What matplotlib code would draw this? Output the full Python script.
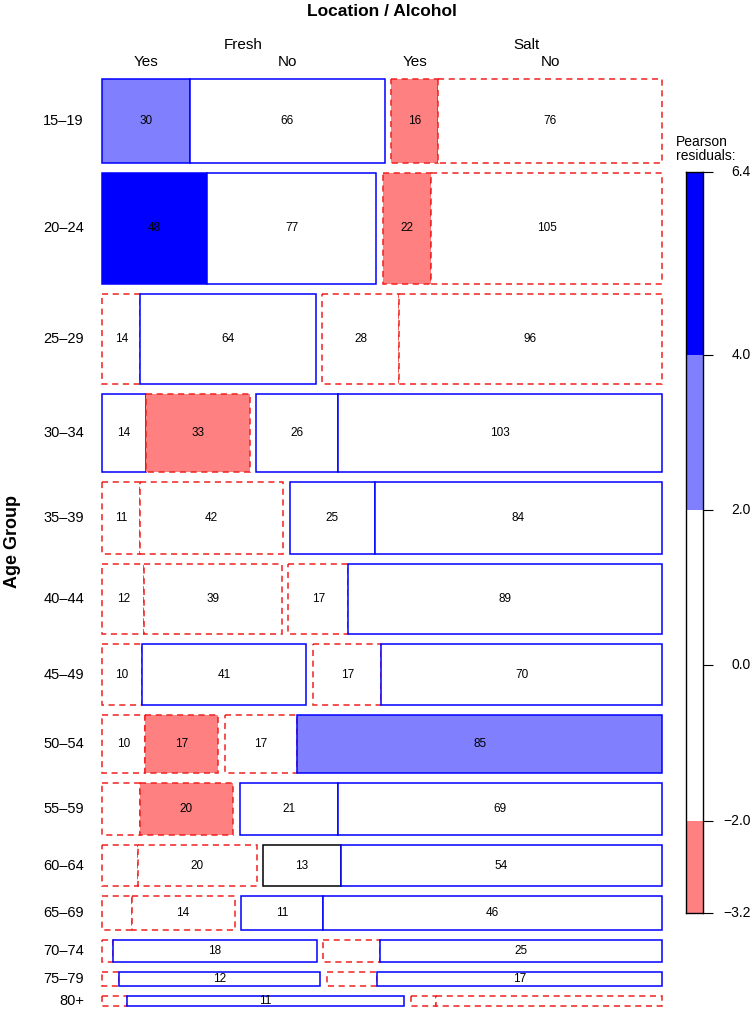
import numpy as np
import matplotlib.pyplot as plt
from matplotlib.patches import Rectangle

plt.rcParams['font.family'] = ['Liberation Sans', 'DejaVu Sans']

# Data: counts by age group, location (Fresh/Salt) and alcohol (Yes/No)
age_groups = ["15\u201319", "20\u201324", "25\u201329", "30\u201334", "35\u201339",
              "40\u201344", "45\u201349", "50\u201354", "55\u201359", "60\u201364",
              "65\u201369", "70\u201374", "75\u201379", "80+"]
locations = ["Fresh", "Salt"]
alcohol = ["Yes", "No"]
fresh_yes = [30, 48, 14, 14, 11, 12, 10, 10, 8, 6, 4, 1, 1, 1]
fresh_no = [66, 77, 64, 33, 42, 39, 41, 17, 20, 20, 14, 18, 12, 11]
salt_yes = [16, 22, 28, 26, 25, 17, 17, 17, 21, 13, 11, 5, 3, 1]
salt_no = [76, 105, 96, 103, 84, 89, 70, 85, 69, 54, 46, 25, 17, 9]

# 3-way table: age x location x alcohol
tab = np.stack([np.array([fresh_yes, fresh_no]).T,
                np.array([salt_yes, salt_no]).T], axis=1).astype(float)
N = tab.sum()
p_age = tab.sum(axis=(1, 2)) / N
p_loc = tab.sum(axis=(0, 2)) / N
p_alc = tab.sum(axis=(0, 1)) / N
expected = N * p_age[:, None, None] * p_loc[None, :, None] * p_alc[None, None, :]
resid = (tab - expected) / np.sqrt(expected)


def fill_colour(r):
    if r >= 4:
        return "#0000FF"
    if r >= 2:
        return "#8080FF"
    if r <= -4:
        return "#FF0000"
    if r <= -2:
        return "#FF8080"
    return "white"


def border_style(r):
    if abs(r) < 0.01:
        return "black", "-"
    if r > 0:
        return "#0000FF", "-"
    return "#F02020", (0, (4, 3))


W, H = 755, 1010
fig = plt.figure(figsize=(W / 100, H / 100), dpi=100)

# main mosaic area (pixel box)
x0, x1 = 102, 662
y0, y1 = 79, 1006
ax = fig.add_axes([x0 / W, 1 - y1 / H, (x1 - x0) / W, (y1 - y0) / H])
ax.set_xlim(0, 1)
ax.set_ylim(1, 0)
ax.axis("off")

gap_x = 6.7 / (x1 - x0)
gap_y = 10.0 / (y1 - y0)
n_rows = tab.shape[0]
avail_h = 1 - gap_y * (n_rows - 1)
avail_w = 1 - gap_x

row_tot = tab.sum(axis=(1, 2))
y = 0.0
first_row_centres = []
for i in range(n_rows):
    h = avail_h * row_tot[i] / N
    x = 0.0
    for j in range(2):
        loc_tot = tab[i, j].sum()
        loc_w = avail_w * loc_tot / row_tot[i]
        xx = x
        for k in range(2):
            w = loc_w * tab[i, j, k] / loc_tot
            r = resid[i, j, k]
            ec, ls = border_style(r)
            ax.add_patch(Rectangle((xx, y), w, h, facecolor=fill_colour(r),
                                   edgecolor=ec, linestyle=ls, linewidth=1.1,
                                   clip_on=False))
            if tab[i, j, k] >= 10:
                ax.text(xx + w / 2, y + h / 2, f"{int(tab[i, j, k])}",
                        ha="center", va="center", fontsize=8.5)
            if i == 0:
                first_row_centres.append((xx + w / 2, alcohol[k]))
            xx += w
        if i == 0:
            ax.text(x + loc_w / 2, -34 / (y1 - y0), locations[j], ha="center",
                    va="center", fontsize=11, clip_on=False)
        x += loc_w + gap_x
    ax.text(-18 / (x1 - x0), y + h / 2, age_groups[i], ha="right", va="center",
            fontsize=10.5, clip_on=False)
    y += h + gap_y

for cx, lab in first_row_centres:
    ax.text(cx, -17 / (y1 - y0), lab, ha="center", va="center", fontsize=11,
            clip_on=False)

fig.text((x0 + x1) / 2 / W, 1 - 12 / H, "Location / Alcohol", ha="center",
         va="center", fontsize=12.5, fontweight="bold")
fig.text(13 / W, 1 - 542 / H, "Age Group", ha="center", va="center",
         rotation=90, fontsize=13, fontweight="bold")

# legend bar of Pearson residuals
rmin, rmax = resid.min(), resid.max()
cb_top, cb_bot = 172, 913
cb_left, cb_right = 686, 703
cax = fig.add_axes([cb_left / W, 1 - cb_bot / H, (cb_right - cb_left) / W,
                    (cb_bot - cb_top) / H])
cax.set_xlim(0, 1)
cax.set_ylim(rmin, rmax)
bands = [(rmin, -2, "#FF8080"), (-2, 2, "white"), (2, 4, "#8080FF"), (4, rmax, "#0000FF")]
for lo, hi, c in bands:
    cax.axhspan(lo, hi, color=c, lw=0)
ticks = [rmin, -2, 0, 2, 4, rmax]
cax.set_yticks(ticks)
cax.set_yticklabels([])
cax.yaxis.tick_right()
cax.tick_params(axis="y", length=7.5, width=0.8)
cax.set_xticks([])
label_x = (751 - cb_left) / (cb_right - cb_left)
for t in ticks:
    cax.text(label_x, t, f"{t:.1f}".replace("-", "\u2212"), ha="right",
             va="center", fontsize=10, transform=cax.get_yaxis_transform(),
             clip_on=False)
for s in cax.spines.values():
    s.set_linewidth(1)
fig.text(676 / W, 1 - 149 / H, "Pearson\nresiduals:", ha="left", va="center",
         fontsize=10, linespacing=0.95)

fig.savefig("out.png", dpi=100)
